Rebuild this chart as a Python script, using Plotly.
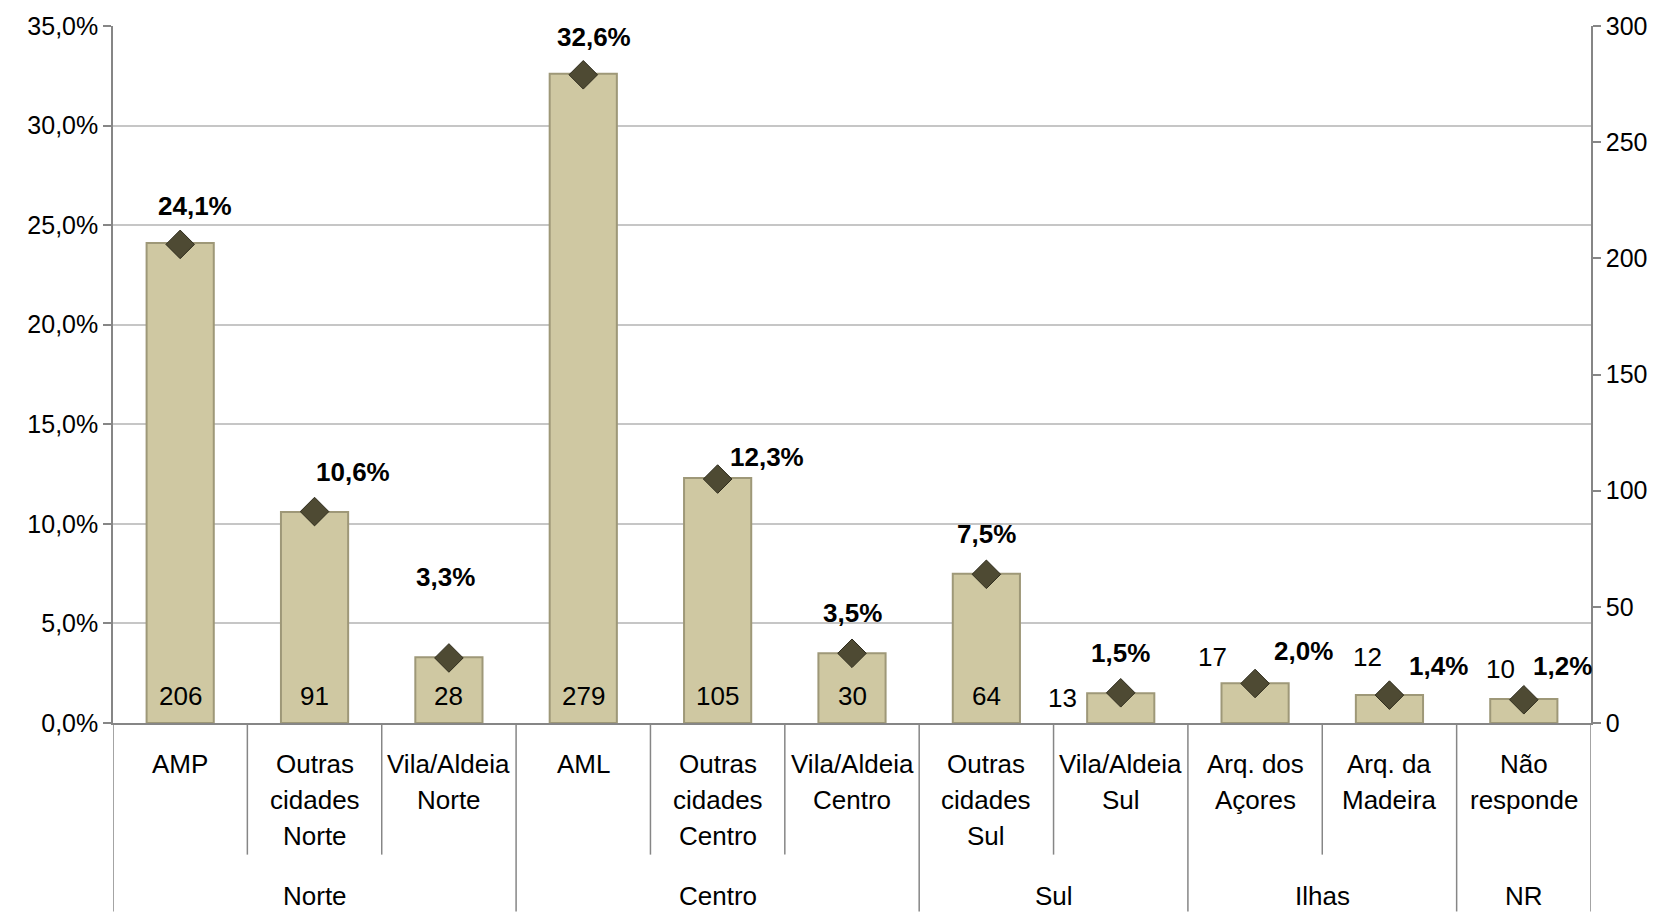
import plotly.graph_objects as go

# ---- data ----
categories = ["AMP", "Outras cidades Norte", "Vila/Aldeia Norte", "AML",
              "Outras cidades Centro", "Vila/Aldeia Centro", "Outras cidades Sul",
              "Vila/Aldeia Sul", "Arq. dos Açores", "Arq. da Madeira", "Não responde"]
category_labels = ["AMP", "Outras<br>cidades<br>Norte", "Vila/Aldeia<br>Norte", "AML",
                   "Outras<br>cidades<br>Centro", "Vila/Aldeia<br>Centro", "Outras<br>cidades<br>Sul",
                   "Vila/Aldeia<br>Sul", "Arq. dos<br>Açores", "Arq. da<br>Madeira", "Não<br>responde"]
groups = ["Norte", "Centro", "Sul", "Ilhas", "NR"]
group_sizes = [3, 3, 2, 2, 1]
counts = [206, 91, 28, 279, 105, 30, 64, 13, 17, 12, 10]
percents = [24.1, 10.6, 3.3, 32.6, 12.3, 3.5, 7.5, 1.5, 2.0, 1.4, 1.2]

# ---- label placement (pixel offsets, style only) ----
pct_offsets = [(15, -37), (38, -40), (-3, -80), (11, -37), (49, -21), (0, -40),
               (0, -40), (0, -40), (48, -32), (49, -29), (39, -33)]
count_offsets = [(0, 27), (0, 27), (0, 27), (0, 27), (0, 27), (0, 27),
                 (0, 27), (-58, 25), (-43, 66), (-22, 66), (-23, 54)]
label_line_px = [764, 800, 836]

W, H = 1666, 912
L, R, T, B = 113, 1591, 24, 723
plot_h = B - T


def py(y_px):
    return (B - y_px) / plot_h


FONT = "Liberation Sans, Arial, sans-serif"
AX = "#868686"

fig = go.Figure()
fig.add_trace(go.Bar(
    x=categories, y=[p / 100 for p in percents], yaxis="y", width=0.5,
    marker=dict(color="#CFC8A2", line=dict(color="#9E9878", width=2)),
    hoverinfo="skip"))
fig.add_trace(go.Scatter(
    x=categories, y=counts, mode="markers", yaxis="y2", cliponaxis=False,
    marker=dict(symbol="diamond", size=22, color="#4E4A33",
                line=dict(color="#2F2C1D", width=1)),
    hoverinfo="skip"))

annotations = []
for i, cat in enumerate(categories):
    dx, dy = pct_offsets[i]
    annotations.append(dict(
        x=cat, y=percents[i] / 100, xref="x", yref="y",
        text=f"<b>{percents[i]:.1f}%</b>".replace(".", ","), showarrow=False,
        xshift=dx, yshift=-dy, yanchor="middle",
        font=dict(family=FONT, size=26, color="#000000")))
    cx, cy = count_offsets[i]
    annotations.append(dict(
        x=cat, y=0, xref="x", yref="y", text=str(counts[i]), showarrow=False,
        xshift=cx, yshift=cy, yanchor="middle",
        font=dict(family=FONT, size=26, color="#000000")))
    for j, line in enumerate(category_labels[i].split("<br>")):
        annotations.append(dict(
            x=cat, y=py(label_line_px[j]), xref="x", yref="paper", text=line,
            showarrow=False, yanchor="middle",
            font=dict(family=FONT, size=26, color="#000000")))

shapes = []
start = 0
group_bounds = [-0.5]
for g, n in zip(groups, group_sizes):
    center = start + (n - 1) / 2
    annotations.append(dict(
        x=center, y=py(896), xref="x", yref="paper", text=g, showarrow=False,
        yanchor="middle", font=dict(family=FONT, size=26, color="#000000")))
    for k in range(1, n):
        b = start + k - 0.5
        shapes.append(dict(type="line", xref="x", yref="paper", x0=b, x1=b,
                           y0=0, y1=py(855), line=dict(color=AX, width=1.5)))
    start += n
    group_bounds.append(start - 0.5)
for b in group_bounds:
    shapes.append(dict(type="line", xref="x", yref="paper", x0=b, x1=b,
                       y0=0, y1=py(912), line=dict(color=AX, width=1.5)))

fig.update_layout(
    width=W, height=H,
    margin=dict(l=L, r=W - R, t=T, b=H - B, pad=0),
    paper_bgcolor="white", plot_bgcolor="white",
    showlegend=False, bargap=0.5,
    separators=",.",
    font=dict(family=FONT, size=26, color="#000000"),
    xaxis=dict(type="category", categoryorder="array", categoryarray=categories,
               range=[-0.5, len(categories) - 0.5], showticklabels=False,
               ticks="", showline=True, linecolor=AX, linewidth=2,
               showgrid=False, zeroline=False),
    yaxis=dict(range=[0, 0.35], dtick=0.05, tickformat=".1%",
               showgrid=True, gridcolor="#C6C6C6", gridwidth=1.5,
               showline=True, linecolor=AX, linewidth=1.5,
               ticks="outside", ticklen=8, tickcolor=AX, tickwidth=1.5,
               zeroline=False, tickfont=dict(family=FONT, size=25)),
    yaxis2=dict(range=[0, 300], dtick=50, overlaying="y", side="right",
                showgrid=False, showline=True, linecolor=AX, linewidth=1.5,
                ticks="outside", ticklen=8, tickcolor=AX, tickwidth=1.5,
                zeroline=False, tickfont=dict(family=FONT, size=25)),
    annotations=annotations, shapes=shapes,
)

fig.write_html("out.html",
               config={"displayModeBar": False},
               post_script="document.body.style.margin='0';"
                           "document.body.style.overflow='hidden';")
